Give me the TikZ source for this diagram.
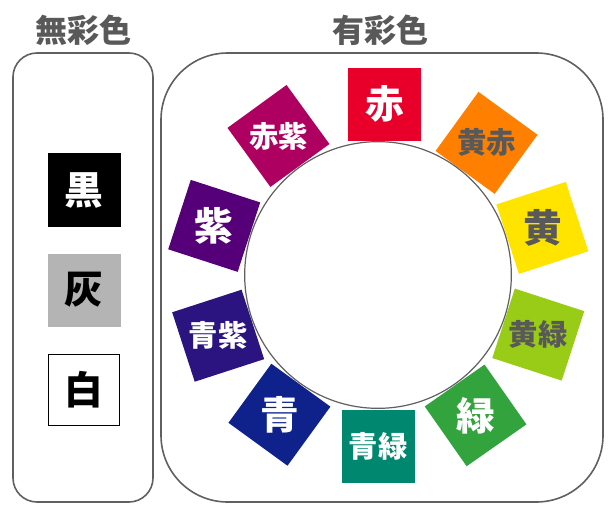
\documentclass[tikz,border=0pt]{standalone}
\usepackage{fontspec}
\newfontfamily\jpfont{Noto Sans CJK JP}

\definecolor{txtgray}{HTML}{595959}
\definecolor{linegray}{HTML}{606060}
\definecolor{hai}{HTML}{B4B4B4}
\definecolor{aka}{HTML}{E8002B}
\definecolor{kiaka}{HTML}{FF8000}
\definecolor{ki}{HTML}{FFE400}
\definecolor{kimidori}{HTML}{99CC16}
\definecolor{midori}{HTML}{33A33D}
\definecolor{aomidori}{HTML}{00876F}
\definecolor{ao}{HTML}{0F218B}
\definecolor{aomurasaki}{HTML}{2B1380}
\definecolor{murasaki}{HTML}{550078}
\definecolor{akamurasaki}{HTML}{AD0060}

\newcommand{\ringX}{378}
\newcommand{\ringY}{275}
\newcommand{\ringR}{171}

\tikzset{
  panel/.style={draw=linegray, line width=1.2pt},
  swatch/.style={minimum size=54.75pt, inner sep=0pt, outer sep=0pt},
  title/.style={text=txtgray, font=\jpfont\bfseries\fontsize{24}{24}\selectfont},
  big/.style={font=\jpfont\bfseries\fontsize{29}{29}\selectfont},
  small/.style={font=\jpfont\bfseries\fontsize{22}{22}\selectfont}
}

\begin{document}
\begin{tikzpicture}[x=0.75pt,y=-0.75pt]
  \useasboundingbox (0,0) rectangle (616,513);

  % Panels:
  \draw[panel, rounded corners=18pt] (13,53) rectangle (153,502);
  \draw[panel, rounded corners=50pt] (161,53) rectangle (603,502);

  % Titles:
  \node[title] (achroT) at (83,30) {無彩色};
  \node[title] (chroT)  at (380,30) {有彩色};

  % Achromatic:
  \node[swatch, fill=black, big, text=white] (kuro) at (84,190) {黒};
  \node[swatch, fill=hai, big, text=black]   (hai)  at (84,290) {灰};
  \node[swatch, draw=black, line width=0.9pt, fill=white, big, text=black,
        minimum size=53.5pt] (shiro) at (84,390) {白};

  % Hue ring:
  \foreach \pos/\rot/\col/\tcol/\sz/\lbl [count=\i] in {
      2.3/0/aka/white/big/赤,
      39.4/36/kiaka/txtgray/small/黄赤,
      74/72/ki/txtgray/big/黄,
      110.4/108/kimidori/txtgray/small/黄緑,
      145.2/145/midori/white/big/緑,
      180/180/aomidori/white/small/青緑,
      215.2/216/ao/white/big/青,
      249.2/252/aomurasaki/white/small/青紫,
      286.7/288/murasaki/white/big/紫,
      324.4/324/akamurasaki/white/small/赤紫}
  {
    \node[swatch, fill=\col, rotate=-\rot] (sq\i)
      at ({\ringX+\ringR*sin(\pos)}, {\ringY-\ringR*cos(\pos)}) {};
    \node[\sz, text=\tcol] (lb\i) at (sq\i) {\lbl};
  }

  % Hole:
  \node[circle, draw=linegray, line width=0.9pt, fill=white,
        minimum size=200pt, inner sep=0pt] (hole) at (\ringX,\ringY) {};

\end{tikzpicture}
\end{document}
